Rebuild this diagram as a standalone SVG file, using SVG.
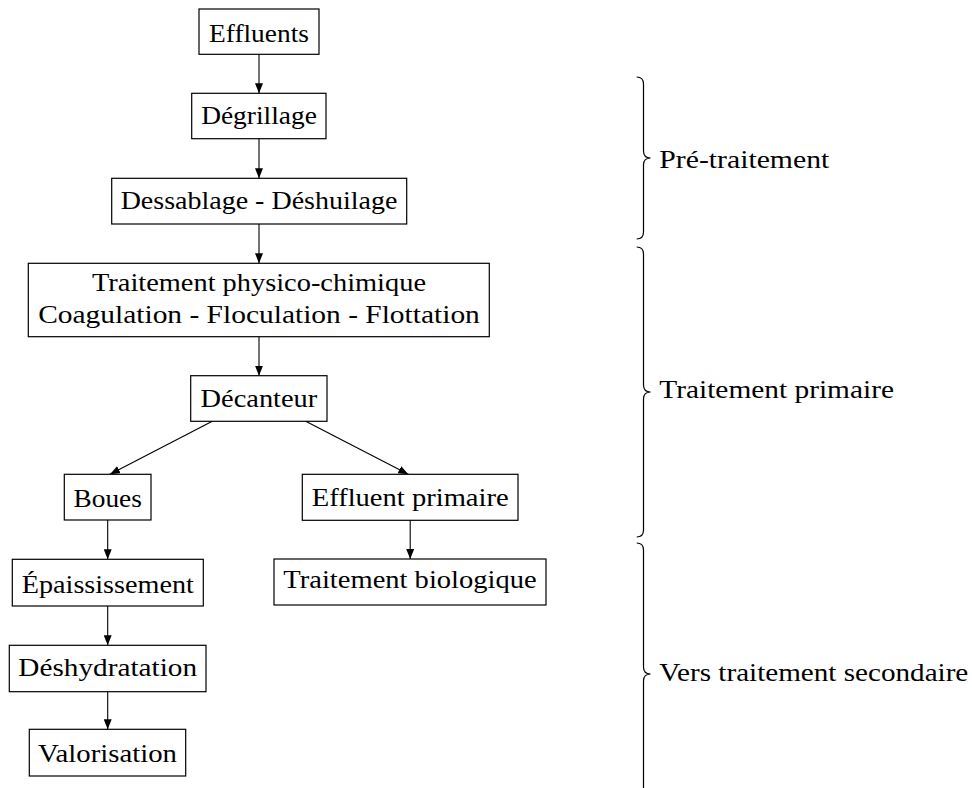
<svg xmlns="http://www.w3.org/2000/svg" width="972" height="788" viewBox="0 0 972 788">
<defs>
<style>
.box{fill:#fff;stroke:#000;stroke-width:1.2}
.lbl{font-family:"Liberation Serif","Times New Roman",serif;font-size:26px;fill:#000}
.c{text-anchor:middle}
.edge{stroke:#000;stroke-width:1.1;fill:none;marker-end:url(#ah)}
.brace{stroke:#000;stroke-width:1.2;fill:none}
</style>
<marker id="ah" viewBox="0 0 10 8" refX="10" refY="4" markerWidth="10" markerHeight="8" markerUnits="userSpaceOnUse" orient="auto">
<path d="M0,0 L10,4 L0,8 Z" fill="#000"/>
</marker>
</defs>
<rect width="972" height="788" fill="#fff"/>
<g id="connectors">
<line class="edge" x1="259" y1="54.3" x2="259" y2="93.3"/>
<line class="edge" x1="259" y1="138.7" x2="259" y2="178.3"/>
<line class="edge" x1="259" y1="224" x2="259" y2="263.3"/>
<line class="edge" x1="259" y1="336.7" x2="259" y2="375.7"/>
<line class="edge" x1="212.3" y1="421.3" x2="110" y2="474.3"/>
<line class="edge" x1="305.7" y1="421.3" x2="408.3" y2="474.3"/>
<line class="edge" x1="107.7" y1="520" x2="107.7" y2="559.3"/>
<line class="edge" x1="410.2" y1="520.3" x2="410.2" y2="559"/>
<line class="edge" x1="107.7" y1="606" x2="107.7" y2="645.3"/>
<line class="edge" x1="107.7" y1="691.7" x2="107.7" y2="729.3"/>
</g>
<g id="effluents">
<rect class="box" x="199" y="9" width="120" height="45.3"/>
<text class="lbl c" x="259" y="41.5" textLength="100" lengthAdjust="spacingAndGlyphs">Effluents</text>
</g>
<g id="degrillage">
<rect class="box" x="191.7" y="93.3" width="134.3" height="45.4"/>
<text class="lbl c" x="259" y="123.5" textLength="115.7" lengthAdjust="spacingAndGlyphs">Dégrillage</text>
</g>
<g id="dessablage">
<rect class="box" x="111.7" y="178.3" width="295" height="45.7"/>
<text class="lbl c" x="259" y="208.5" textLength="276.7" lengthAdjust="spacingAndGlyphs">Dessablage - Déshuilage</text>
</g>
<g id="physico">
<rect class="box" x="28.3" y="263.3" width="461" height="73.4"/>
<text class="lbl c" x="259" y="290.7" textLength="334" lengthAdjust="spacingAndGlyphs">Traitement physico-chimique</text>
<text class="lbl c" x="259" y="322.7" textLength="441.7" lengthAdjust="spacingAndGlyphs">Coagulation - Floculation - Flottation</text>
</g>
<g id="decanteur">
<rect class="box" x="190.7" y="375.7" width="136.3" height="45.6"/>
<text class="lbl c" x="258.9" y="407.3" textLength="116.7" lengthAdjust="spacingAndGlyphs">Décanteur</text>
</g>
<g id="boues">
<rect class="box" x="64.3" y="474.3" width="86.7" height="45.7"/>
<text class="lbl c" x="107.7" y="506.5" textLength="68.3" lengthAdjust="spacingAndGlyphs">Boues</text>
</g>
<g id="effluent-primaire">
<rect class="box" x="302.3" y="474.3" width="215.7" height="46"/>
<text class="lbl c" x="410.2" y="505.5" textLength="197" lengthAdjust="spacingAndGlyphs">Effluent primaire</text>
</g>
<g id="epaississement">
<rect class="box" x="12.3" y="559.3" width="191" height="46.7"/>
<text class="lbl c" x="107.8" y="593.3" textLength="172" lengthAdjust="spacingAndGlyphs">Épaississement</text>
</g>
<g id="traitement-biologique">
<rect class="box" x="274" y="559" width="272" height="46"/>
<text class="lbl c" x="410" y="588.3" textLength="253.3" lengthAdjust="spacingAndGlyphs">Traitement biologique</text>
</g>
<g id="deshydratation">
<rect class="box" x="9.3" y="645.3" width="196.7" height="46.4"/>
<text class="lbl c" x="107.7" y="675.5" textLength="178.7" lengthAdjust="spacingAndGlyphs">Déshydratation</text>
</g>
<g id="valorisation">
<rect class="box" x="29.3" y="729.3" width="156.4" height="46.7"/>
<text class="lbl c" x="107.5" y="761.7" textLength="139" lengthAdjust="spacingAndGlyphs">Valorisation</text>
</g>
<g id="brace-pretraitement">
<path class="brace" d="M636.7 77 Q643.5 77 643.5 84 L643.5 151 Q643.5 158 650.5 158 Q643.5 158 643.5 165 L643.5 232 Q643.5 239 636.7 239"/>
<text class="lbl" x="659.3" y="168.3" textLength="170" lengthAdjust="spacingAndGlyphs">Pré-traitement</text>
</g>
<g id="brace-primaire">
<path class="brace" d="M636.7 247 Q643.5 247 643.5 254 L643.5 385 Q643.5 392 650.5 392 Q643.5 392 643.5 399 L643.5 530 Q643.5 537 636.7 537"/>
<text class="lbl" x="659.3" y="398.3" textLength="234.7" lengthAdjust="spacingAndGlyphs">Traitement primaire</text>
</g>
<g id="brace-secondaire">
<path class="brace" d="M636.7 543 Q643.5 543 643.5 550 L643.5 667 Q643.5 674 650.5 674 Q643.5 674 643.5 681 L643.5 798 Q643.5 805 636.7 805"/>
<text class="lbl" x="659.3" y="681" textLength="309" lengthAdjust="spacingAndGlyphs">Vers traitement secondaire</text>
</g>
</svg>
